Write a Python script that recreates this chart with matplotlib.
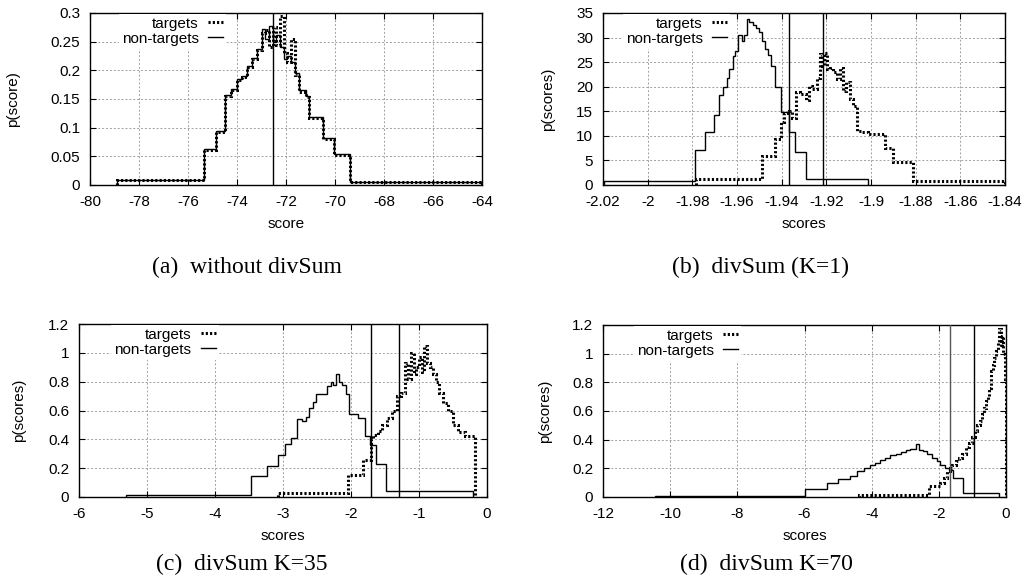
import numpy as np
import matplotlib
matplotlib.use("Agg")
import matplotlib.pyplot as plt
from matplotlib.ticker import FormatStrFormatter

# ---------------- data ----------------
# (a) without divSum
a_nt_edges = [-78.9, -75.35, -74.85, -74.5, -74.25, -74.0, -73.8, -73.6, -73.4, -73.2, -73.0,
              -72.85, -72.7, -72.55, -72.4, -72.25, -72.1, -71.95, -71.8, -71.65, -71.45,
              -71.2, -71.05, -70.5, -70.05, -69.4, -64.0]
a_nt_vals = [0.008, 0.063, 0.094, 0.157, 0.168, 0.185, 0.19, 0.207, 0.222, 0.237, 0.272, 0.255,
             0.278, 0.25, 0.262, 0.24, 0.22, 0.225, 0.215, 0.195, 0.165, 0.155, 0.118, 0.082,
             0.054, 0.006]
a_t_edges = a_nt_edges
a_t_vals = [0.008, 0.061, 0.092, 0.155, 0.166, 0.183, 0.189, 0.205, 0.22, 0.235, 0.265, 0.27,
            0.24, 0.275, 0.245, 0.295, 0.23, 0.215, 0.255, 0.192, 0.163, 0.153, 0.116, 0.08,
            0.052, 0.005]
a_thresholds = [-72.55]

# (b) divSum (K=1)
b_nt_edges = [-2.0195, -1.979, -1.9744, -1.9703, -1.9682, -1.9661, -1.9647, -1.9635, -1.962,
              -1.9607, -1.9594, -1.9579, -1.9568, -1.9556, -1.9547, -1.9528, -1.9513, -1.9501,
              -1.9488, -1.9473, -1.9459, -1.9446, -1.9428, -1.9401, -1.9367, -1.934, -1.9289,
              -1.9015]
b_nt_vals = [0.8, 7.1, 10.8, 14.3, 18.4, 20.0, 21.8, 23.7, 26.2, 27.3, 30.6, 29.4, 30.5, 33.8,
             33.1, 32.6, 31.9, 31.1, 29.4, 27.7, 26.4, 24.3, 19.9, 14.8, 10.7, 6.7, 1.2]
b_t_edges = [-1.9782, -1.9488, -1.9431, -1.9405, -1.939, -1.9367, -1.9352, -1.9334, -1.9316,
             -1.9293, -1.9278, -1.9263, -1.9244, -1.9229, -1.9219, -1.921, -1.9199, -1.9184,
             -1.9169, -1.9154, -1.9139, -1.9124, -1.9113, -1.9095, -1.908, -1.9062, -1.9047,
             -1.9013, -1.8938, -1.89, -1.8811, -1.8402]
b_t_vals = [1.2, 5.8, 9.4, 12.9, 14.7, 15.1, 13.7, 19.0, 18.6, 17.3, 20.2, 19.5, 21.7, 26.6,
            24.3, 26.9, 23.6, 23.9, 22.9, 21.5, 23.9, 19.2, 20.9, 17.5, 16.1, 11.0, 10.8, 10.3,
            7.5, 4.6, 0.8]
b_thresholds = [-1.9365, -1.9215]

# (c) divSum K=35
c_nt_edges = [-5.306, -3.472, -3.229, -3.076, -2.967, -2.877, -2.788, -2.719, -2.669, -2.62,
              -2.56, -2.511, -2.421, -2.347, -2.297, -2.258, -2.223, -2.183, -2.134, -2.074,
              -2.025, -1.985, -1.896, -1.8, -1.72, -1.632, -1.483, -0.2]
c_nt_vals = [0.016, 0.144, 0.218, 0.29, 0.366, 0.41, 0.544, 0.526, 0.556, 0.614, 0.66, 0.711,
             0.715, 0.771, 0.8, 0.78, 0.852, 0.8, 0.776, 0.711, 0.574, 0.574, 0.55, 0.42, 0.36,
             0.23, 0.04]
c_t_edges = [-3.075, -2.045, -1.82, -1.71, -1.68, -1.6, -1.55, -1.47, -1.4, -1.32, -1.27, -1.21,
             -1.16, -1.12, -1.08, -1.04, -1.0, -0.96, -0.92, -0.88, -0.84, -0.8, -0.75, -0.7,
             -0.64, -0.58, -0.5, -0.42, -0.33, -0.17]
c_t_vals = [0.03, 0.155, 0.26, 0.40, 0.43, 0.46, 0.50, 0.55, 0.60, 0.70, 0.72, 0.93, 0.82, 1.0,
            0.85, 0.9, 0.97, 0.87, 1.05, 0.93, 0.9, 0.85, 0.8, 0.72, 0.65, 0.6, 0.5, 0.45, 0.42]
c_thresholds = [-1.71, -1.29]

# (d) divSum K=70
d_nt_edges = [-10.44, -6.0, -5.33, -4.99, -4.66, -4.44, -4.24, -4.06, -3.89, -3.74, -3.59,
              -3.44, -3.29, -3.14, -2.99, -2.86, -2.74, -2.67, -2.6, -2.46, -2.34, -2.21, -2.06,
              -1.96, -1.81, -1.7, -1.57, -1.27, -0.2]
d_nt_vals = [0.007, 0.056, 0.097, 0.125, 0.149, 0.179, 0.2, 0.22, 0.237, 0.255, 0.27, 0.29, 0.3,
             0.313, 0.33, 0.337, 0.335, 0.368, 0.33, 0.318, 0.30, 0.27, 0.25, 0.225, 0.205,
             0.185, 0.13, 0.03]
d_t_edges = [-4.39, -2.28, -1.96, -1.86, -1.76, -1.68, -1.6, -1.5, -1.4, -1.3, -1.2, -1.1, -1.0,
             -0.92, -0.85, -0.78, -0.72, -0.66, -0.6, -0.55, -0.5, -0.45, -0.4, -0.35, -0.3,
             -0.25, -0.2, -0.16, -0.12, -0.08, -0.04, -0.01]
d_t_vals = [0.016, 0.08, 0.10, 0.13, 0.18, 0.2, 0.22, 0.25, 0.27, 0.3, 0.35, 0.38, 0.42, 0.46,
            0.5, 0.53, 0.58, 0.62, 0.67, 0.7, 0.76, 0.88, 0.92, 0.97, 1.02, 1.08, 1.17, 1.05,
            1.12, 1.0, 0.82]
d_thresholds = [-1.67, -0.95]

captions = ["(a)  without divSum", "(b)  divSum (K=1)", "(c)  divSum K=35", "(d)  divSum K=70"]
xlabels = ["score", "scores", "scores", "scores"]
ylabels = ["p(score)", "p(scores)", "p(scores)", "p(scores)"]
legend_labels = ["targets", "non-targets"]

xticks_a = np.arange(-80, -63, 2)
yticks_a = np.round(np.arange(0, 0.301, 0.05), 2)
xticks_b = np.round(np.arange(-2.02, -1.839, 0.02), 2)
yticks_b = np.arange(0, 36, 5)
xticks_c = np.arange(-6, 1, 1)
yticks_c = np.round(np.arange(0, 1.21, 0.2), 1)
xticks_d = np.arange(-12, 1, 2)
yticks_d = yticks_c

# ---------------- drawing ----------------
plt.rcParams['font.family'] = ['Liberation Sans', 'DejaVu Sans']
W, H = 1026, 588
fig = plt.figure(figsize=(W / 100, H / 100), dpi=100)

panels = [
    dict(rect=(90, 13, 482, 185), nt=(a_nt_vals, a_nt_edges), t=(a_t_vals, a_t_edges),
         th=a_thresholds, xt=xticks_a, yt=yticks_a, xl=(-80, -64), yl=(0, 0.3),
         leg=0.35, ylx=-0.196, cap=(247, 267)),
    dict(rect=(603, 13, 1005, 185), nt=(b_nt_vals, b_nt_edges), t=(b_t_vals, b_t_edges),
         th=b_thresholds, xt=xticks_b, yt=yticks_b, xl=(-2.02, -1.84), yl=(0, 35),
         leg=0.318, ylx=-0.137, cap=(760, 267)),
    dict(rect=(79, 324, 487, 497), nt=(c_nt_vals, c_nt_edges), t=(c_t_vals, c_t_edges),
         th=c_thresholds, xt=xticks_c, yt=yticks_c, xl=(-6, 0), yl=(0, 1.2),
         leg=0.345, ylx=-0.147, cap=(242, 564)),
    dict(rect=(603, 325, 1006, 497), nt=(d_nt_vals, d_nt_edges), t=(d_t_vals, d_t_edges),
         th=d_thresholds, xt=xticks_d, yt=yticks_d, xl=(-12, 0), yl=(0, 1.2),
         leg=0.345, ylx=-0.144, cap=(766, 564)),
]

for i, p in enumerate(panels):
    l, t, r, b = p['rect']
    ax = fig.add_axes([l / W, 1 - b / H, (r - l) / W, (b - t) / H])
    ax.set_xlim(*p['xl'])
    ax.set_ylim(*p['yl'])
    ax.set_xticks(p['xt'])
    ax.set_yticks(p['yt'])
    ax.xaxis.set_major_formatter(FormatStrFormatter('%g'))
    ax.yaxis.set_major_formatter(FormatStrFormatter('%g'))
    ax.grid(True, color='#a0a0a0', linestyle=(0, (2, 2)), linewidth=0.7)
    ax.set_axisbelow(True)
    ax.tick_params(direction='in', length=4, width=0.8, top=True, right=True,
                   labelsize=11, pad=7)
    for s in ax.spines.values():
        s.set_linewidth(1.0)

    hn = ax.stairs(p['nt'][0], p['nt'][1], baseline=0, color='black', linewidth=1.0,
                   zorder=3)
    ht = ax.stairs(p['t'][0], p['t'][1], baseline=0, color='black', linewidth=2.2,
                   linestyle=(0, (0.7, 0.7)), zorder=3)
    for k, v in enumerate(p['th']):
        col = '#555555' if (i == 3 and k == 0) else 'black'
        ax.axvline(v, color=col, linewidth=1.0, zorder=4)

    leg = ax.legend([ht, hn], legend_labels, loc='upper right', bbox_to_anchor=(p['leg'], 1.0),
                    markerfirst=False, frameon=True, fancybox=False, edgecolor='none',
                    facecolor='white', framealpha=1, fontsize=11, handlelength=1.0,
                    handletextpad=0.6, borderpad=0.2, labelspacing=0.05, borderaxespad=0.05)

    ax.set_xlabel(xlabels[i], fontsize=11)
    ax.set_ylabel(ylabels[i], fontsize=11)
    ax.xaxis.set_label_coords(0.5, -0.225)
    ax.xaxis.label.set_va('center')
    ax.yaxis.set_label_coords(p['ylx'], 0.5)
    ax.yaxis.label.set_va('center')

    cx, cy = p['cap']
    fig.text(cx / W, 1 - cy / H, captions[i], ha='center', va='center',
             family=['Liberation Serif', 'DejaVu Serif'], fontsize=17)

fig.savefig('out.png', dpi=100)
